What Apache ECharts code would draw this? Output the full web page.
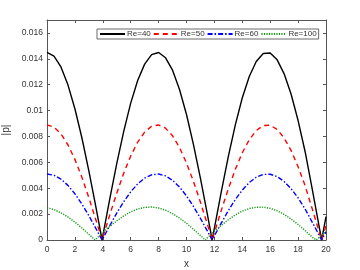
<!DOCTYPE html>
<html>
<head>
<meta charset="utf-8">
<script src="https://cdn.jsdelivr.net/npm/echarts@6/dist/echarts.min.js"></script>
<style>html,body{margin:0;padding:0;background:#fff;}#c{width:360px;height:270px;}</style>
</head>
<body>
<div id="c"></div>
<script>
const xGrid = [0,0.5,1,1.5,2,2.5,3,3.5,4,4.5,5,5.5,6,6.5,7,7.5,8,8.5,9,9.5,10,10.5,11,11.5,12,12.5,13,13.5,14,14.5,15,15.5,16,16.5,17,17.5,18,18.5,19,19.5,20];
const seriesNames = ['Re=40','Re=50','Re=60','Re=100'];
const re40 = [0.01450,0.01421,0.01337,0.01199,0.01014,0.00790,0.00534,0.00257,0.00031,0.00317,0.00590,0.00840,0.01058,0.01233,0.01359,0.01432,0.01449,0.01408,0.01312,0.01163,0.00970,0.00737,0.00476,0.00196,0.00092,0.00376,0.00646,0.00890,0.01099,0.01263,0.01379,0.01441,0.01445,0.01392,0.01284,0.01126,0.00923,0.00684,0.00400,0.00110,0.00180];
const re50 = [0.00890,0.00872,0.00820,0.00736,0.00623,0.00485,0.00327,0.00157,0.00019,0.00194,0.00362,0.00516,0.00649,0.00757,0.00834,0.00879,0.00889,0.00864,0.00805,0.00714,0.00595,0.00452,0.00292,0.00120,0.00057,0.00231,0.00396,0.00546,0.00674,0.00775,0.00846,0.00884,0.00887,0.00854,0.00788,0.00691,0.00566,0.00420,0.00245,0.00067,0.00110];
const re60 = [0.00510,0.00500,0.00470,0.00422,0.00357,0.00278,0.00188,0.00090,0.00011,0.00111,0.00208,0.00296,0.00372,0.00434,0.00478,0.00504,0.00510,0.00495,0.00461,0.00409,0.00341,0.00259,0.00167,0.00069,0.00032,0.00132,0.00227,0.00313,0.00386,0.00444,0.00485,0.00507,0.00508,0.00490,0.00452,0.00396,0.00325,0.00240,0.00140,0.00039,0.00063];
const re100 = [0.00250,0.00235,0.00210,0.00178,0.00138,0.00093,0.00044,0.00006,0.00056,0.00105,0.00148,0.00186,0.00217,0.00239,0.00252,0.00255,0.00247,0.00230,0.00204,0.00170,0.00129,0.00083,0.00034,0.00017,0.00067,0.00114,0.00157,0.00194,0.00223,0.00243,0.00253,0.00254,0.00245,0.00226,0.00198,0.00162,0.00120,0.00073,0.00023,0.00020,0.00070];
const zeros40 = [3.947, 11.84, 19.69];
const zeros50 = [3.947, 11.84, 19.69];
const zeros60 = [3.947, 11.84, 19.69];
const zeros100 = [3.44, 11.36, 19.30];
const xTicks = [0,2,4,6,8,10,12,14,16,18,20];
const yTicks = [0,0.002,0.004,0.006,0.008,0.01,0.012,0.014,0.016];

function build(vals, zeros){
  const pts = xGrid.map((x,i)=>[x, vals[i]]);
  zeros.forEach(z=>pts.push([z,0]));
  pts.sort((a,b)=>a[0]-b[0]);
  return pts;
}
const valsAll = [re40, re50, re60, re100];
const zerosAll = [zeros40, zeros50, zeros60, zeros100];
const colors = ['#000000','#ff0000','#0000ff','#119911'];
const dashes = ['solid',[5,4],[5,2,1.5,2],[1.2,1.3]];

const axisCol = '#555';
const txtCol = '#333';
const font = 'Liberation Sans, Arial, sans-serif';

const chart = echarts.init(document.getElementById('c'), null, {renderer:'canvas'});
chart.setOption({
  animation:false,
  backgroundColor:'#fff',
  grid:{left:47,right:34,top:20,bottom:30,containLabel:false,outerBoundsMode:'none'},
  legend:{
    left:97, top:29, orient:'horizontal',
    data: seriesNames,
    itemWidth:25, itemHeight:8, itemGap:2,
    padding:[1,2,1,2],
    borderColor:'#444', borderWidth:0.8, backgroundColor:'#fff',
    itemStyle:{opacity:0},
    textStyle:{fontSize:8, fontFamily:font, color:txtCol, padding:[0,0,0,-3]}
  },
  xAxis:[{
    type:'value', min:0, max:20, interval:2, position:'bottom',
    name:'x', nameLocation:'middle', nameGap:17,
    nameTextStyle:{fontSize:10, fontFamily:font, color:txtCol},
    axisLine:{show:true, onZero:false, lineStyle:{color:axisCol,width:1}},
    axisTick:{show:true, inside:true, length:3, lineStyle:{color:axisCol}},
    axisLabel:{fontSize:8.5, fontFamily:font, color:txtCol, margin:5},
    splitLine:{show:false}
  },{
    type:'value', min:0, max:20, interval:2, position:'top',
    axisLine:{show:true, onZero:false, lineStyle:{color:axisCol,width:1}},
    axisTick:{show:true, inside:true, length:3, lineStyle:{color:axisCol}},
    axisLabel:{show:false}, splitLine:{show:false}
  }],
  yAxis:[{
    type:'value', min:0, max:0.017, interval:0.002, position:'left',
    name:'|p|', nameLocation:'middle', nameGap:24, nameRotate:90,
    nameTextStyle:{fontSize:10, fontFamily:font, color:txtCol},
    axisLine:{show:true, onZero:false, lineStyle:{color:axisCol,width:1}},
    axisTick:{show:true, inside:true, length:3, lineStyle:{color:axisCol}},
    axisLabel:{fontSize:8.5, fontFamily:font, color:txtCol, margin:4, showMaxLabel:false,
      formatter:function(v){ if (v > 0.0165) return ''; return String(+v.toFixed(3)); }},
    splitLine:{show:false}
  },{
    type:'value', min:0, max:0.017, interval:0.002, position:'right',
    axisLine:{show:true, onZero:false, lineStyle:{color:axisCol,width:1}},
    axisTick:{show:true, inside:true, length:3, lineStyle:{color:axisCol}},
    axisLabel:{show:false}, splitLine:{show:false}
  }],
  series: seriesNames.map((n,i)=>({
    name:n, type:'line', xAxisIndex:0, yAxisIndex:0,
    data: build(valsAll[i], zerosAll[i]),
    showSymbol:false, symbol:'none', smooth:false,
    lineStyle:{color:colors[i], width:1.4, type:dashes[i]},
    itemStyle:{color:colors[i]}
  }))
});
</script>
</body>
</html>
